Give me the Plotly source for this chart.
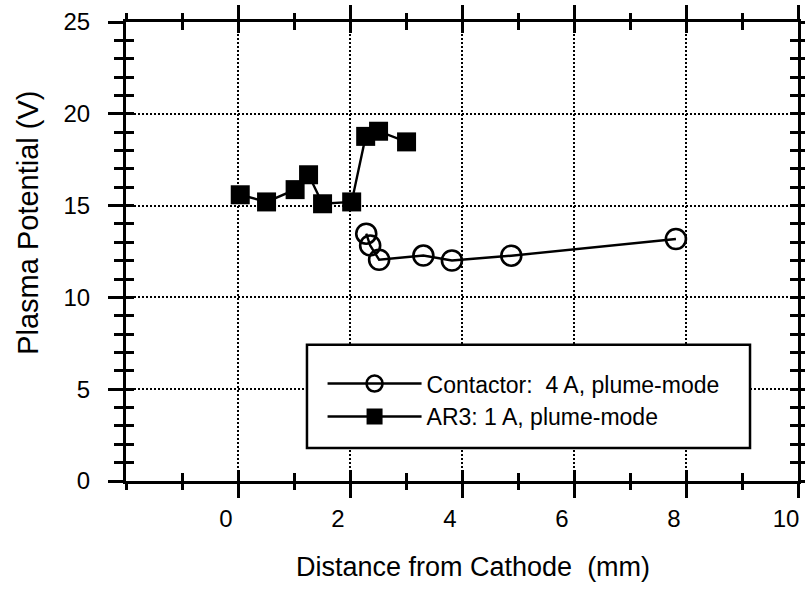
import plotly.graph_objects as go

# Plasma potential vs. distance from the cathode, two operating conditions
contactor_x = [2.29, 2.36, 2.52, 3.31, 3.82, 4.88, 7.82]
contactor_y = [13.47, 12.83, 12.05, 12.28, 12.01, 12.27, 13.18]

ar3_x = [0.04, 0.51, 1.02, 1.26, 1.51, 2.03, 2.28, 2.51, 3.01]
ar3_y = [15.59, 15.20, 15.87, 16.68, 15.10, 15.20, 18.77, 19.05, 18.47]

x_ticks = [0, 2, 4, 6, 8, 10]
x_tick_labels = ["0", "2", "4", "6", "8", "10"]
y_ticks = [0, 5, 10, 15, 20, 25]
y_tick_labels = ["0", "5", "10", "15", "20", "25"]

FONT = "Liberation Sans, Arial, Helvetica, sans-serif"
NB = "\u00a0"

fig = go.Figure()

fig.add_trace(go.Scatter(
    x=contactor_x, y=contactor_y, mode="lines+markers",
    name="Contactor:" + NB * 2 + "4 A, plume-mode",
    line=dict(color="black", width=2.4),
    marker=dict(symbol="circle-open", size=20, color="black", line=dict(width=2.6)),
))
fig.add_trace(go.Scatter(
    x=ar3_x, y=ar3_y, mode="lines+markers",
    name="AR3: 1 A, plume-mode",
    line=dict(color="black", width=2.4),
    marker=dict(symbol="square", size=19, color="black"),
))
# carrier for the overlay axes that draw the inward half of each tick
fig.add_trace(go.Scatter(x=[None], y=[None], xaxis="x2", yaxis="y2",
                         showlegend=False, hoverinfo="skip"))

grid = dict(showgrid=True, gridcolor="black", gridwidth=2, griddash="2px,2px")

fig.update_layout(
    width=805, height=594,
    margin=dict(l=126, r=7, t=22, b=113, autoexpand=False),
    paper_bgcolor="white", plot_bgcolor="white",
    font=dict(family=FONT, color="black"),
    showlegend=True,
    legend=dict(
        x=0.2925, y=0.259, xanchor="left", yanchor="top",
        bgcolor="rgba(0,0,0,0)", borderwidth=0,
        font=dict(size=23, family=FONT),
        itemwidth=94, tracegroupgap=0,
    ),
    xaxis=dict(
        range=[-2, 10], tickvals=x_ticks, ticktext=x_tick_labels,
        automargin=False, ticklabelshift=-12,
        showline=True, linecolor="black", linewidth=3, mirror="ticks",
        ticks="outside", ticklen=14, tickwidth=2.5, tickcolor="black",
        tickfont=dict(size=24, family=FONT),
        minor=dict(dtick=1, tick0=0, ticks="outside", ticklen=6,
                   tickwidth=2.5, tickcolor="black", showgrid=False),
        zeroline=False, **grid,
    ),
    yaxis=dict(
        range=[0, 25], tickvals=y_ticks, ticktext=y_tick_labels,
        automargin=False,
        showline=True, linecolor="black", linewidth=3, mirror="ticks",
        ticks="outside", ticklen=15, tickwidth=2.5, tickcolor="black",
        tickfont=dict(size=24, family=FONT), ticklabelstandoff=13,
        minor=dict(dtick=1, tick0=0, ticks="outside", ticklen=9,
                   tickwidth=2.5, tickcolor="black", showgrid=False),
        zeroline=False, **grid,
    ),
    xaxis2=dict(
        overlaying="x", anchor="y2", side="bottom", range=[-2, 10],
        automargin=False,
        tickmode="linear", tick0=0, dtick=2, showticklabels=False,
        ticks="inside", ticklen=11, tickwidth=2.5, tickcolor="black",
        mirror="ticks", showline=False, showgrid=False, zeroline=False,
        minor=dict(dtick=1, tick0=0, ticks="inside", ticklen=8,
                   tickwidth=2.5, tickcolor="black", showgrid=False),
    ),
    yaxis2=dict(
        overlaying="y", anchor="x2", side="left", range=[0, 25],
        automargin=False,
        tickmode="linear", tick0=0, dtick=5, showticklabels=False,
        ticks="inside", ticklen=8, tickwidth=2.5, tickcolor="black",
        mirror="ticks", showline=False, showgrid=False, zeroline=False,
        minor=dict(dtick=1, tick0=0, ticks="inside", ticklen=8,
                   tickwidth=2.5, tickcolor="black", showgrid=False),
    ),
    shapes=[
        # white framed panel behind the legend entries
        dict(type="rect", xref="paper", yref="paper",
             x0=0.2693, x1=0.9286, y0=0.072, y1=0.2966, layer="above",
             fillcolor="white", line=dict(color="black", width=2.5)),
    ],
    annotations=[
        dict(text="Distance from Cathode" + NB * 2 + "(mm)", xref="paper", yref="paper",
             x=0.516, y=-0.188, xanchor="center", yanchor="middle",
             showarrow=False, font=dict(size=27, family=FONT)),
        dict(text="Plasma Potential (V)", xref="paper", yref="paper",
             x=-0.147, y=0.563, xanchor="center", yanchor="middle", textangle=-90,
             showarrow=False, font=dict(size=29, family=FONT)),
    ],
)

fig.write_html("out.html")
